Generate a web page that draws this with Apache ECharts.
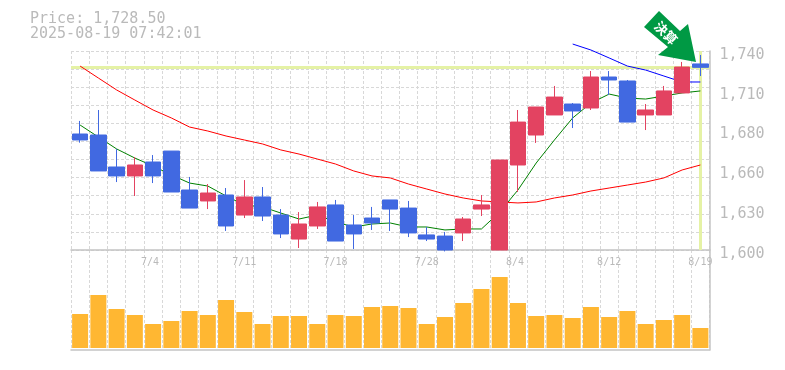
<!DOCTYPE html>
<html><head><meta charset="utf-8">
<style>html,body{margin:0;padding:0;background:#fff}#c{width:785px;height:370px}</style>
<script src="https://cdn.jsdelivr.net/npm/echarts@6/dist/echarts.min.js"></script>
</head><body><div id="c"></div>
<script>
const categories = ['6/30','7/1','7/2','7/3','7/4','7/7','7/8','7/9','7/10','7/11','7/14','7/15','7/16','7/17','7/18','7/22','7/23','7/24','7/25','7/28','7/29','7/30','7/31','8/1','8/4','8/5','8/6','8/7','8/8','8/12','8/13','8/14','8/15','8/18','8/19'];
const open  = [1681.6,1680.9,1658.4,1652.1,1661.9,1669.6,1642.2,1634.5,1638.7,1624.6,1637.3,1624.6,1607.7,1616.9,1631.7,1617.6,1622.5,1635.2,1629.5,1610.6,1609.8,1612.0,1628.8,1600,1659.8,1680.9,1695.0,1702.7,1699.9,1721.7,1718.9,1695.0,1695.0,1710.5,1730.9];
const close = [1677.4,1655.6,1652.1,1659.8,1652.1,1640.8,1629.5,1640.1,1616.9,1637.3,1623.9,1611.3,1618.3,1630.3,1606.3,1611.3,1619.0,1628.8,1612.0,1607.7,1600,1621.8,1631.7,1663.3,1690.0,1700.6,1707.6,1697.8,1721.7,1719.6,1690.0,1698.5,1711.9,1728.7,1728.5];
const low   = [1675.5,1655.6,1647.8,1638.0,1647.1,1640.8,1629.5,1628.8,1613.4,1622.5,1620.4,1608.4,1601.4,1614.8,1606.3,1600.7,1614.1,1613.4,1609.1,1606.3,1599,1606.3,1623.9,1600,1640.8,1675.3,1695.0,1685.8,1698.5,1709.0,1690.0,1684.4,1695.0,1710.5,1722.4];
const high  = [1690.8,1698.5,1671.1,1665.4,1666.8,1669.6,1651.4,1646.4,1643.6,1649.2,1644.3,1628.8,1626.7,1633.8,1635.2,1624.6,1630.3,1635.2,1634.5,1616.2,1612.7,1623.2,1638.7,1663.3,1698.5,1700.6,1715.4,1703.4,1725.9,1725.9,1719.6,1702.7,1715.4,1732.3,1737.2];
const ma5   = [1687.9,1679.5,1671.1,1664.7,1659.1,1652.8,1647.1,1645.0,1638.0,1631.7,1630.3,1626.0,1621.8,1624.6,1619.7,1616.2,1618.3,1619.0,1616.2,1616.2,1614.1,1614.8,1614.8,1626.7,1642.2,1661.2,1677.4,1692.9,1703.4,1709.7,1706.9,1706.2,1708.3,1710.5,1711.9];
const ma25  = [1729.4,1721.0,1712.6,1705.5,1698.5,1692.9,1686.5,1683.7,1680.2,1677.4,1674.6,1670.4,1667.5,1664.0,1660.5,1655.6,1652.1,1650.7,1646.4,1642.9,1639.4,1636.6,1634.5,1633.8,1633.1,1633.8,1636.6,1638.7,1641.5,1643.6,1645.7,1647.8,1650.7,1656.3,1659.8];
const ma75  = [null,null,null,null,null,null,null,null,null,null,null,null,null,null,null,null,null,null,null,null,null,null,null,null,null,null,null,1744.9,1740.7,1735.1,1729.4,1726.6,1722.4,1718.2,1718.2];
const volume = [34,53,39,33,24,27,37,33,48,36,24,32,32,24,33,32,41,42,40,24,31,45,59,71,45,32,33,30,41,31,37,24,28,33,20];
const priceTicks = [1600,1628,1656,1684,1712,1740];
const priceTickLabels = ['1,600','1,630','1,660','1,680','1,710','1,740'];
const lastPrice = 1728.5;
const titleLines = 'Price: 1,728.50\n2025-08-19 07:42:01';
const badgeText = '決算';

const MONO = '"DejaVu Sans Mono", monospace';
const GRAY = '#bababa', AXIS = '#c4c4c4', GRIDC = '#d8d8d8';
const dash = { color: GRIDC, type: [3, 2], width: 1 };
const chart = echarts.init(document.getElementById('c'), null, { renderer: 'canvas' });
const L = 71, R = 785 - 709.5;
chart.setOption({
  animation: false,
  backgroundColor: '#fff',
  title: { text: titleLines, left: 30, top: 12, padding: 0,
    textStyle: { fontFamily: MONO, fontSize: 15, fontWeight: 'normal', color: GRAY, lineHeight: 15 } },
  grid: [
    { left: L, right: R, top: 51, height: 199 },
    { left: L, right: R, top: 250, height: 100 }
  ],
  xAxis: [
    { type: 'category', gridIndex: 0, data: categories, boundaryGap: true,
      axisLine: { show: true, onZero: false, lineStyle: { color: AXIS, width: 1.5 } }, axisTick: { show: false },
      axisLabel: { show: true, margin: 7, interval: (i) => i % 5 === 4, formatter: (v) => v.padEnd(4, ' '),
        fontFamily: MONO, fontSize: 10, color: GRAY },
      splitLine: { show: true, interval: 0, lineStyle: dash } },
    { type: 'category', gridIndex: 1, data: categories, boundaryGap: true,
      axisLine: { show: true, onZero: false, lineStyle: { color: AXIS, width: 1.5 } }, axisTick: { show: false },
      axisLabel: { show: false },
      splitLine: { show: true, interval: 0, lineStyle: dash } }
  ],
  yAxis: [
    { type: 'value', gridIndex: 0, position: 'right', min: 1600, max: 1740, scale: true,
      axisLine: { show: true, onZero: false, lineStyle: { color: AXIS, width: 1.5 } }, axisTick: { show: false },
      axisLabel: { show: true, customValues: priceTicks, margin: 10, verticalAlign: 'top', lineHeight: 8,
        formatter: (v) => priceTickLabels[priceTicks.indexOf(v)],
        fontFamily: MONO, fontSize: 15, color: GRAY },
      splitLine: { show: false } },
    { type: 'value', gridIndex: 0, position: 'right', min: 0, max: 11, interval: 1,
      axisLine: { show: false }, axisTick: { show: false }, axisLabel: { show: false },
      splitLine: { show: true, lineStyle: dash } },
    { type: 'value', gridIndex: 1, position: 'right', min: -2, max: 98,
      axisLine: { show: true, onZero: false, lineStyle: { color: AXIS, width: 1.5 } }, axisTick: { show: false },
      axisLabel: { show: false }, splitLine: { show: false } }
  ],
  series: [
    { type: 'line', name: 'last', xAxisIndex: 0, yAxisIndex: 0, data: [], z: 1, silent: true,
      markLine: { z: 1, silent: true, symbol: 'none', label: { show: false }, animation: false,
        lineStyle: { color: '#e5f2a5', type: 'solid', width: 3 },
        data: [{ yAxis: lastPrice }, { xAxis: categories[categories.length - 1] }] } },
    { type: 'candlestick', name: 'price', xAxisIndex: 0, yAxisIndex: 0, barWidth: 16, z: 3,
      data: categories.map((_, i) => [open[i], close[i], low[i], high[i]]),
      itemStyle: { color: '#e34361', color0: '#4169e1', borderColor: '#e34361', borderColor0: '#4169e1', borderWidth: 1 } },
    { type: 'line', name: 'ma5', xAxisIndex: 0, yAxisIndex: 0, data: ma5, symbol: 'none', clip: false, z: 2,
      lineStyle: { color: '#008000', width: 1 } },
    { type: 'line', name: 'ma25', xAxisIndex: 0, yAxisIndex: 0, data: ma25, symbol: 'none', clip: false, z: 2,
      lineStyle: { color: '#ff0000', width: 1 } },
    { type: 'line', name: 'ma75', xAxisIndex: 0, yAxisIndex: 0, data: ma75, symbol: 'none', clip: false, z: 2,
      lineStyle: { color: '#0000ff', width: 1 } },
    { type: 'bar', name: 'volume', xAxisIndex: 1, yAxisIndex: 2, data: volume, barWidth: 16, z: 2,
      itemStyle: { color: '#ffb732' } }
  ],
  graphic: [
    { type: 'polygon', z: 100, shape: { points: [[659,11],[644,27],[668,47],[658,55],[696,62],[688,24],[680,31]] },
      style: { fill: '#009944' } },
    { type: 'text', z: 101, x: 666, y: 33, rotation: -Math.PI / 4,
      style: { text: badgeText, fill: '#fff', font: 'bold 13px "Noto Sans CJK JP"', align: 'center', verticalAlign: 'middle' } }
  ]
});
</script></body></html>
